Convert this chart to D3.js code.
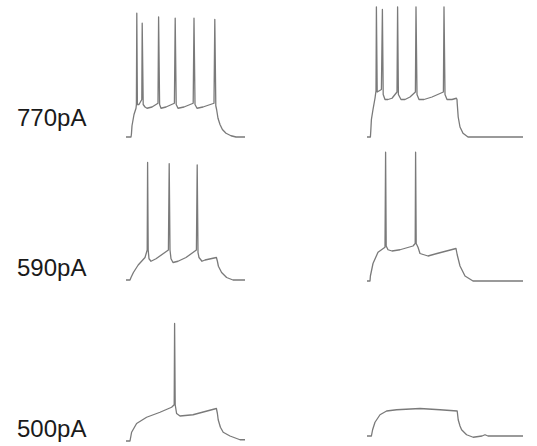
<!DOCTYPE html>
<html>
<head>
<meta charset="utf-8">
<script src="https://cdn.jsdelivr.net/npm/d3@7"></script>
<style>
  body { margin: 0; background: #fff; }
</style>
</head>
<body>
<div id="chart"></div>
<script>
const width = 537
const height = 446

// current step labels (one per row)
const currents = ['770pA', '590pA', '500pA']

// traces: [time ms, membrane potential mV]
const trace770L = [
  [0, -70], [25, -70], [27, -68], [30, -61], [40, -52], [50, -47], [52, -44],
  [54, 29], [57, -44], [65, -44], [79, -40], [81, 21], [86, -44], [95, -46],
  [105, -47], [130, -46], [160, -43], [163, 26], [168, -44], [175, -47],
  [200, -46], [242, -43], [246, 25], [251, -44], [260, -47], [290, -46],
  [336, -43], [340, 25], [345, -44], [355, -47], [385, -46], [440, -43],
  [444, 24], [449, -45], [453, -48], [460, -55], [470, -60], [482, -64],
  [500, -67], [525, -69], [550, -70], [595, -70]
]
const trace770R = [
  [0, -70], [17, -70], [19, -65], [22, -56], [30, -48], [40, -39], [45, -33],
  [47, 34], [51, -34], [72, -32], [77, 32], [81, -36], [90, -40], [105, -40],
  [125, -39], [150, -34], [153, 34], [157, -36], [170, -40], [190, -40],
  [215, -38], [242, -34], [245, 34], [250, -36], [260, -40], [285, -40],
  [305, -39], [325, -38], [382, -34], [385, 34], [390, -36], [400, -40],
  [425, -40], [447, -39], [450, -40], [451, -43], [456, -54], [465, -62],
  [480, -67], [505, -70], [780, -70]
]
const trace590L = [
  [0, -70], [20, -70], [25, -68], [37, -64], [61, -58], [95, -52], [106, -46],
  [108, 24], [111, -46], [115, -53], [125, -55], [150, -53], [212, -46],
  [216, 23], [220, -46], [225, -53], [235, -56], [260, -55], [300, -52],
  [352, -46], [356, 22], [360, -48], [365, -52], [380, -55], [395, -54],
  [452, -52], [457, -55], [462, -59], [478, -64], [503, -68], [535, -70],
  [595, -70]
]
const trace590R = [
  [0, -70], [15, -70], [17, -66], [30, -56], [55, -47], [90, -43], [93, 33],
  [96, -42], [105, -45], [125, -46], [165, -45], [230, -42], [241, -40],
  [243, 33], [246, -40], [255, -43], [265, -48], [305, -50], [350, -48],
  [445, -44], [451, -49], [465, -58], [490, -66], [530, -70], [780, -70]
]
const trace500L = [
  [0, -70], [20, -70], [28, -63], [53, -56], [103, -51], [170, -47],
  [228, -43], [241, -41], [243, 24], [246, -41], [253, -48], [270, -50],
  [335, -49], [452, -44], [457, -48], [461, -53], [472, -59], [486, -63],
  [520, -66], [570, -69], [595, -69]
]
const trace500R = [
  [0, -70], [22, -70], [28, -65], [40, -59], [65, -53], [98, -50],
  [148, -49], [265, -48], [365, -49], [451, -50], [456, -57], [465, -62],
  [473, -65], [498, -69], [531, -71], [575, -70], [590, -69], [605, -70],
  [780, -70]
]

// panel layout: left edge and resting-level pixel of each trace
const panels = [
  { data: trace770L, left: 126, base: 137 },
  { data: trace770R, left: 367, base: 137 },
  { data: trace590L, left: 126, base: 280 },
  { data: trace590R, left: 367, base: 281 },
  { data: trace500L, left: 126, base: 441 },
  { data: trace500R, left: 367, base: 436 },
]
const labelPos = [
  { x: 17, y: 126 },
  { x: 17, y: 276 },
  { x: 17, y: 437 },
]

const svg = d3.select('#chart').append('svg').attr('width', width).attr('height', height)

panels.forEach(p => {
  const x = d3.scaleLinear().domain([0, 800]).range([p.left, p.left + 160])
  const y = d3.scaleLinear().domain([-70, 30]).range([p.base, p.base - 125])
  const line = d3.line().x(d => x(d[0])).y(d => y(d[1]))
  svg.append('path')
    .attr('d', line(p.data))
    .attr('fill', 'none')
    .attr('stroke', '#7a7a7a')
    .attr('stroke-width', 1.3)
    .attr('stroke-linejoin', 'round')
})

svg.selectAll('text.label')
  .data(currents)
  .enter()
  .append('text')
  .attr('class', 'label')
  .attr('x', (d, i) => labelPos[i].x)
  .attr('y', (d, i) => labelPos[i].y)
  .attr('font-family', 'Liberation Sans, Arial, sans-serif')
  .attr('font-size', 24)
  .attr('fill', '#1a1a1a')
  .text(d => d)
</script>
</body>
</html>
